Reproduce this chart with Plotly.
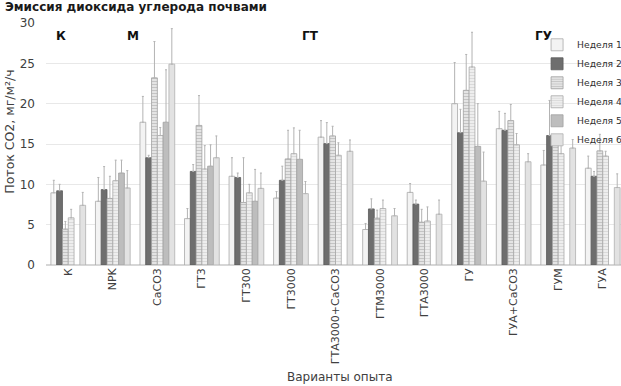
import plotly.graph_objects as go

categories = ["К", "NPK", "CaCO3", "ГТ3", "ГТ300", "ГТ3000", "ГТА3000+CaCO3",
              "ГТМ3000", "ГТА3000", "ГУ", "ГУА+CaCO3", "ГУМ", "ГУА"]

week1 = [8.95, 7.9, 17.7, 5.75, 11.0, 8.3, 15.85, 4.4, 9.0, 20.0, 16.9, 12.4, 12.0]
week2 = [9.2, 9.35, 13.3, 11.6, 10.85, 10.5, 15.05, 6.95, 7.55, 16.4, 16.7, 16.05, 11.0]
week3 = [4.45, 8.25, 23.2, 17.3, 7.75, 13.15, 16.0, 5.8, 5.3, 21.65, 17.9, 15.25, 14.15]
week4 = [5.85, 10.45, 16.05, 11.9, 8.95, 13.8, 13.6, 7.0, 5.45, 24.55, 14.9, 13.8, 13.5]
week5 = [None, 11.4, 17.7, 12.25, 7.9, 13.1, None, None, None, 14.7, None, None, None]
week6 = [7.4, 9.55, 24.9, 13.3, 9.5, 8.85, 14.1, 6.1, 6.3, 10.4, 12.8, 14.5, 9.6]

err1 = [1.55, 2.95, 3.2, 1.25, 2.3, 0.8, 2.05, 0.75, 1.1, 5.1, 2.15, 1.8, 1.5]
err2 = [0.8, 2.85, 0.3, 0.85, 0.55, 1.75, 2.6, 1.25, 0.5, 2.9, 2.1, 4.35, 0.6]
err3 = [0.95, 2.75, 4.5, 3.7, 5.55, 3.55, 1.2, 1.0, 1.6, 4.45, 2.0, 0.55, 2.05]
err4 = [1.05, 2.55, 1.0, 2.9, 1.05, 3.2, 1.55, 1.05, 1.75, 4.3, 1.4, 1.2, 0.6]
err5 = [0, 1.6, 6.5, 2.65, 3.95, 3.6, 0, 0, 0, 5.3, 0, 0, 0]
err6 = [1.6, 2.15, 4.4, 2.7, 1.9, 1.5, 1.4, 0.9, 1.75, 3.6, 1.0, 1.05, 1.7]

series_names = ["Неделя 1", "Неделя 2", "Неделя 3", "Неделя 4", "Неделя 5", "Неделя 6"]
series_vals = [week1, week2, week3, week4, week5, week6]
series_errs = [err1, err2, err3, err4, err5, err6]

group_labels = ["К", "М", "ГТ", "ГУ"]

styles = [
    dict(color="#f3f3f3", line=dict(color="#a8a8a8", width=0.8)),
    dict(color="#6e6e6e", line=dict(color="#5a5a5a", width=0.8)),
    dict(color="#dcdcdc", line=dict(color="#a0a0a0", width=0.8),
         pattern=dict(shape="-", fgcolor="#a3a3a3", bgcolor="#e4e4e4", size=3, solidity=0.35)),
    dict(color="#e6e6e6", line=dict(color="#a8a8a8", width=0.8),
         pattern=dict(shape="-", fgcolor="#c2c2c2", bgcolor="#eeeeee", size=3, solidity=0.3)),
    dict(color="#bdbdbd", line=dict(color="#a0a0a0", width=0.8)),
    dict(color="#e2e2e2", line=dict(color="#b0b0b0", width=0.8)),
]

fig = go.Figure()
for name, vals, errs, st in zip(series_names, series_vals, series_errs, styles):
    fig.add_trace(go.Bar(
        x=categories, y=vals, name=name, marker=st,
        error_y=dict(type="data", array=errs, symmetric=False,
                     arrayminus=[0] * len(errs), color="#b3b3b3",
                     thickness=1, width=1),
    ))

W, H = 621, 386
L, T, B = 45.5, 22.7, 121
pw = W - L
ph = H - T - B

def px_x(p):
    return (p - L) / pw

def px_y(p):
    return (265 - p) / ph

fig.update_layout(
    width=W, height=H,
    margin=dict(l=L, r=0, t=T, b=B, autoexpand=False),
    paper_bgcolor="white", plot_bgcolor="white",
    barmode="group", bargap=0.22, bargroupgap=0,
    font=dict(family="DejaVu Sans", color="#404040"),
    title=dict(text="Эмиссия диоксида углерода почвами", xref="container", yref="container",
               x=5 / W, xanchor="left", y=1 - 7 / H, yanchor="middle",
               font=dict(family="DejaVu Sans", size=12, weight="bold", color="#1a1a1a")),
    legend=dict(x=px_x(537), xanchor="left", y=px_y(30), yanchor="top",
                bgcolor="rgba(0,0,0,0)", font=dict(size=9.2, color="#303030"),
                itemwidth=30, tracegroupgap=0),
    showlegend=True,
)

fig.update_xaxes(range=[-0.5, 12.41], tickangle=-90, showgrid=False, ticks="",
                 tickfont=dict(size=11, color="#404040"), showline=False)
fig.update_yaxes(range=[0, 30], dtick=5, showgrid=True, gridcolor="#e8e8e8", gridwidth=1,
                 zeroline=True, zerolinecolor="#d6d6d6", ticks="",
                 tickfont=dict(size=12, color="#404040"), ticklabelstandoff=10)

annotations = [
    dict(text="Поток СО2, мг/м²/ч", xref="paper", yref="paper", x=px_x(9), y=px_y(132),
         textangle=-90, showarrow=False, font=dict(size=12.5, color="#404040"),
         xanchor="center", yanchor="middle"),
    dict(text="Варианты опыта", xref="paper", yref="paper", x=px_x(340), y=px_y(377),
         showarrow=False, font=dict(size=12, color="#404040"), xanchor="center", yanchor="middle"),
]
for lbl, px in zip(group_labels, [61, 133, 310, 543]):
    annotations.append(dict(text=lbl, xref="paper", yref="paper", x=px_x(px), y=px_y(36),
                            showarrow=False, font=dict(size=12, color="#111111", weight="bold"),
                            xanchor="center", yanchor="middle"))
fig.update_layout(annotations=annotations)

fig.write_html("out.html", config={"displayModeBar": False},
               post_script="document.body.style.margin='0';")
